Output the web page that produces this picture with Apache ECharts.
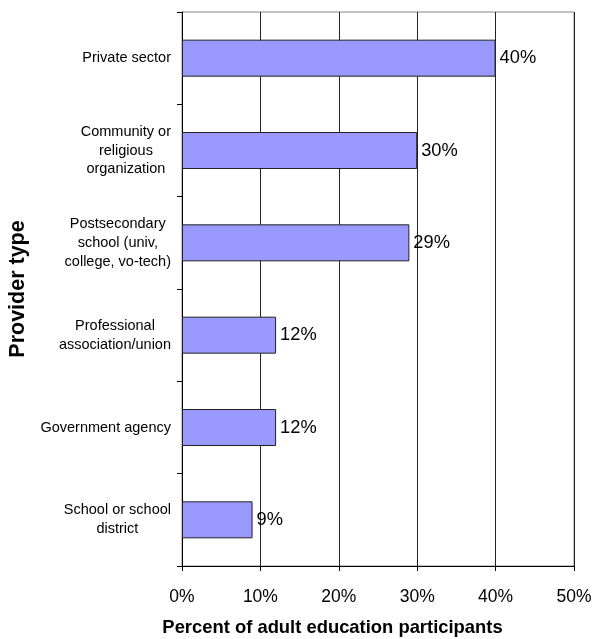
<!DOCTYPE html>
<html><head><meta charset="utf-8">
<script src="https://cdn.jsdelivr.net/npm/echarts@6/dist/echarts.min.js"></script>
<style>html,body{margin:0;padding:0;background:#fff}#c{width:594px;height:639px}</style>
</head><body><div id="c"></div>
<script>
var categories = ["Private sector", "Community or\nreligious\norganization", "Postsecondary\nschool (univ,\ncollege, vo-tech)", "Professional\nassociation/union", "Government agency", "School or school\ndistrict"];
var values = [40, 30, 29, 12, 12, 9];
var xTicks = [0, 10, 20, 30, 40, 50];

var chart = echarts.init(document.getElementById('c'));
chart.setOption({
  animation: false,
  grid: {left: 182, right: 20, top: 12, bottom: 73, show: true, borderColor: '#888', borderWidth: 1, outerBoundsMode: 'none', containLabel: false},
  xAxis: {
    type: 'value', min: xTicks[0], max: xTicks[xTicks.length - 1], interval: 10,
    name: 'Percent of adult education participants', nameLocation: 'middle', nameGap: 53,
    nameTextStyle: {fontFamily: 'Liberation Sans', fontWeight: 'bold', fontSize: 18.4, color: '#000', padding: [0, 91, 0, 0]},
    axisLine: {show: true, lineStyle: {color: '#000', width: 1}},
    axisTick: {show: true, length: 5, lineStyle: {color: '#000'}},
    axisLabel: {formatter: '{value}%', margin: 22, fontFamily: 'Liberation Sans', fontSize: 17.5, color: '#000'},
    splitLine: {show: true, lineStyle: {color: '#222', width: 1}}
  },
  yAxis: {
    type: 'category', data: categories, inverse: true,
    name: 'Provider type', nameLocation: 'middle', nameGap: 150, nameRotate: 90,
    nameTextStyle: {fontFamily: 'Liberation Sans', fontWeight: 'bold', fontSize: 21.5, color: '#000'},
    axisLine: {show: true, lineStyle: {color: '#000', width: 1}},
    axisTick: {show: true, length: 5, lineStyle: {color: '#000'}},
    axisLabel: {
      margin: 11, align: 'right', fontFamily: 'Liberation Sans', fontSize: 14.5, color: '#000', lineHeight: 18.7,
      formatter: function (v) { return v.split('\n').map(function (s) { return '{c|' + s + '}'; }).join('\n'); },
      rich: {c: {align: 'center', fontFamily: 'Liberation Sans', fontSize: 14.5, color: '#000', lineHeight: 18.7}}
    },
    splitLine: {show: false}
  },
  series: [{
    type: 'bar', data: values, barWidth: 37,
    itemStyle: {color: '#9999FF', borderColor: '#222', borderWidth: 1},
    label: {show: true, position: 'right', distance: 4, formatter: '{c}%', fontFamily: 'Liberation Sans', fontSize: 18.3, color: '#000'}
  }]
});
</script></body></html>
